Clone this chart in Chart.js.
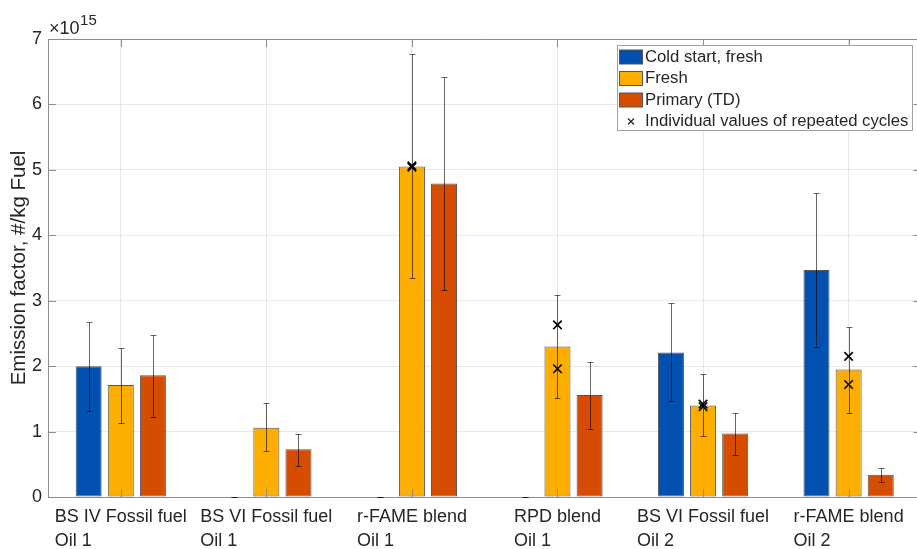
<!DOCTYPE html>
<html><head><meta charset="utf-8">
<script src="https://cdn.jsdelivr.net/npm/chart.js@4.4.1/dist/chart.umd.min.js"></script>
<style>
html,body{margin:0;padding:0;overflow:hidden;background:#fff;width:917px;height:549px}
#wrap{position:relative;width:917px;height:549px;overflow:hidden}
#c{position:absolute;left:0;top:0;display:block}
</style>
</head><body><div id="wrap"><canvas id="c" width="929" height="549"></canvas></div>
<script>
// ---- data (values in units of 10^15 #/kg fuel) ----
const categories = [
  ["BS IV Fossil fuel", "Oil 1"],
  ["BS VI Fossil fuel", "Oil 1"],
  ["r-FAME blend", "Oil 1"],
  ["RPD blend", "Oil 1"],
  ["BS VI Fossil fuel", "Oil 2"],
  ["r-FAME blend", "Oil 2"]
];
const seriesNames = ["Cold start, fresh", "Fresh", "Primary (TD)"];
const markerName = "Individual values of repeated cycles";
const exponent = "15";
const yTicks = [0, 1, 2, 3, 4, 5, 6, 7];

const coldStart     = [2.00, 0, 0, 0, 2.21, 3.47];
const coldStartLow  = [1.32, 0, 0, 0, 1.46, 2.30];
const coldStartHigh = [2.67, 0, 0, 0, 2.96, 4.65];

const fresh     = [1.71, 1.06, 5.05, 2.30, 1.40, 1.95];
const freshLow  = [1.13, 0.71, 3.34, 1.52, 0.93, 1.29];
const freshHigh = [2.28, 1.44, 6.77, 3.08, 1.88, 2.60];

const primary     = [1.86, 0.73, 4.79, 1.56, 0.97, 0.34];
const primaryLow  = [1.23, 0.48, 3.17, 1.04, 0.64, 0.23];
const primaryHigh = [2.48, 0.97, 6.42, 2.07, 1.29, 0.45];

const cycleA = [null, null, 5.04, 2.63, 1.42, 2.15];
const cycleB = [null, null, 5.06, 1.96, 1.38, 1.72];

// ---- styling ----
const FONT = "'Liberation Sans', Arial, Helvetica, sans-serif";
const TXT = '#262626';
const AXIS = '#8c8c8c';
const GRID = '#e8e8e8';
const colors = ['#0251b0', '#fdae00', '#d64c00'];
const errLow = [coldStartLow, freshLow, primaryLow];
const errHigh = [coldStartHigh, freshHigh, primaryHigh];

const decor = {
  id: 'decor',
  afterDatasetDraw(chart, args) {
    const i = args.index;
    if (i > 2) return;
    const meta = chart.getDatasetMeta(i);
    const ys = chart.scales.y;
    const ctx = chart.ctx;
    ctx.save();
    ctx.strokeStyle = 'rgba(0,0,0,0.6)';
    ctx.lineWidth = 1;
    meta.data.forEach((bar, j) => {
      const x = Math.round(bar.x) + 0.5;
      const yl = Math.round(ys.getPixelForValue(errLow[i][j])) + 0.5;
      const yh = Math.round(ys.getPixelForValue(errHigh[i][j])) + 0.5;
      ctx.beginPath();
      ctx.moveTo(x, yl); ctx.lineTo(x, yh);
      ctx.moveTo(x - 3, yl); ctx.lineTo(x + 3, yl);
      ctx.moveTo(x - 3, yh); ctx.lineTo(x + 3, yh);
      ctx.stroke();
    });
    ctx.restore();
  },
  afterDraw(chart) {
    const ctx = chart.ctx;
    const a = chart.chartArea;
    const xs = chart.scales.x, ys = chart.scales.y;
    ctx.save();
    // top & right frame
    ctx.strokeStyle = AXIS;
    ctx.lineWidth = 1;
    ctx.beginPath();
    ctx.moveTo(a.left, a.top + 0.5); ctx.lineTo(a.right, a.top + 0.5);
    ctx.moveTo(a.right - 0.5, a.top); ctx.lineTo(a.right - 0.5, a.bottom);
    ctx.stroke();
    // inward ticks
    ctx.beginPath();
    yTicks.forEach(v => {
      const y = Math.round(ys.getPixelForValue(v)) + 0.5;
      ctx.moveTo(a.left, y); ctx.lineTo(a.left + 8, y);
      ctx.moveTo(a.right, y); ctx.lineTo(a.right - 8, y);
    });
    categories.forEach((c, i) => {
      const x = Math.round(xs.getPixelForTick(i)) + 0.5;
      ctx.moveTo(x, a.bottom); ctx.lineTo(x, a.bottom - 8);
      ctx.moveTo(x, a.top); ctx.lineTo(x, a.top + 8);
    });
    ctx.stroke();
    // x tick labels (two lines, left aligned within centered block)
    ctx.fillStyle = TXT;
    ctx.font = `18px ${FONT}`;
    ctx.textBaseline = 'middle';
    ctx.textAlign = 'left';
    categories.forEach((c, i) => {
      const cx = xs.getPixelForTick(i);
      const w = Math.max(...c.map(s => ctx.measureText(s).width));
      const left = cx - w / 2;
      c.forEach((s, k) => ctx.fillText(s, left, 517 + k * 24));
    });
    // exponent label
    ctx.font = `18px ${FONT}`;
    ctx.textBaseline = 'alphabetic';
    ctx.fillText('\u00d710', a.left + 1, 34);
    const w10 = ctx.measureText('\u00d710').width;
    ctx.font = `15px ${FONT}`;
    ctx.fillText(exponent, a.left + 1 + w10 + 0.5, 25);
    // legend
    const lx = 617, ly = 45, lw = 295, lh = 85;
    ctx.fillStyle = '#fff';
    ctx.fillRect(lx, ly, lw, lh);
    ctx.strokeStyle = '#a0a0a0';
    ctx.strokeRect(lx + 0.5, ly + 0.5, lw, lh);
    const rowY = [57, 78.5, 100, 121.5];
    ctx.font = `16.7px ${FONT}`;
    ctx.textBaseline = 'middle';
    seriesNames.forEach((n, k) => {
      ctx.fillStyle = colors[k];
      ctx.fillRect(619.5, rowY[k] - 7, 23, 14);
      ctx.strokeStyle = '#555';
      ctx.strokeRect(619.5, rowY[k] - 7, 23, 14);
      ctx.fillStyle = TXT;
      ctx.fillText(n, 645, rowY[k]);
    });
    ctx.strokeStyle = '#222';
    ctx.lineWidth = 1.2;
    ctx.beginPath();
    ctx.moveTo(628, rowY[3] - 3); ctx.lineTo(634, rowY[3] + 3);
    ctx.moveTo(634, rowY[3] - 3); ctx.lineTo(628, rowY[3] + 3);
    ctx.stroke();
    ctx.fillStyle = TXT;
    ctx.fillText(markerName, 645, rowY[3]);
    ctx.restore();
  }
};

const barStyle = (k) => ({
  backgroundColor: colors[k],
  borderColor: '#555555',
  borderWidth: 1,
  borderSkipped: false,
  barPercentage: 0.81,
  categoryPercentage: 0.662,
  order: 1
});
const markerStyle = {
  type: 'line',
  showLine: false,
  pointStyle: 'crossRot',
  pointRadius: 6,
  pointBorderColor: '#000',
  pointBorderWidth: 1.6,
  pointBackgroundColor: '#000',
  order: 0
};

new Chart(document.getElementById('c'), {
  type: 'bar',
  data: {
    labels: categories.map(c => c.join(' ')),
    datasets: [
      { label: seriesNames[0], data: coldStart, ...barStyle(0) },
      { label: seriesNames[1], data: fresh, ...barStyle(1) },
      { label: seriesNames[2], data: primary, ...barStyle(2) },
      { label: markerName, data: cycleA, ...markerStyle },
      { label: markerName, data: cycleB, ...markerStyle }
    ]
  },
  options: {
    responsive: false,
    animation: false,
    events: [],
    layout: { padding: { top: 39, bottom: 52, left: 0, right: 0 } },
    plugins: { legend: { display: false }, tooltip: { enabled: false } },
    scales: {
      x: {
        offset: true,
        grid: { offset: false, color: GRID, drawTicks: false },
        ticks: { display: false },
        border: { color: AXIS },
        afterFit(s) { s.height = 0; }
      },
      y: {
        min: 0, max: 7,
        afterBuildTicks(s) { s.ticks = yTicks.map(v => ({ value: v })); },
        ticks: { color: TXT, font: { family: FONT, size: 18 }, padding: 6 },
        grid: { color: GRID, drawTicks: false },
        border: { color: AXIS },
        title: {
          display: true, text: 'Emission factor, #/kg Fuel', color: TXT,
          font: { family: FONT, size: 20.5 }, padding: { top: 7, bottom: 0 }
        },
        afterFit(s) { s.width = 48; }
      }
    }
  },
  plugins: [decor]
});
</script>
</body></html>
